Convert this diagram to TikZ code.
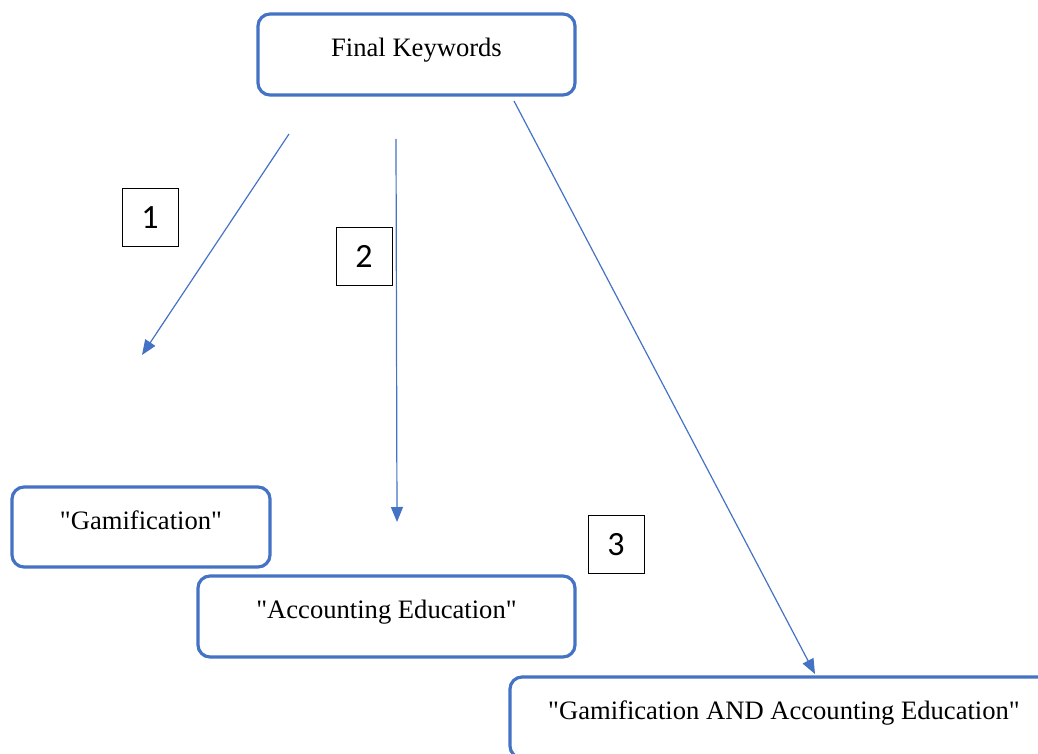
\documentclass[tikz,border=0pt]{standalone}
\usepackage{fontspec}
\setmainfont{Liberation Serif}[Ligatures=TeXOff]
\newfontfamily\numfont{Carlito}
\usetikzlibrary{arrows.meta}
\definecolor{wordblue}{HTML}{4472C4}
\begin{document}
\begin{tikzpicture}[x=1pt,y=-1pt,
  keybox/.style={draw=wordblue, line width=3.2pt, rounded corners=12pt, inner sep=0pt,
    font=\fontsize{26.6}{30}\selectfont, text height=19pt, text depth=15pt},
  numbox/.style={draw=black, line width=1pt, inner sep=0pt, minimum width=56pt,
    minimum height=58pt, font=\numfont\fontsize{34}{40}\selectfont},
  link/.style={draw=wordblue, line width=1.2pt, -{Triangle[length=15pt,width=12pt]}}]
\useasboundingbox (0,0) rectangle (1038,754);
\node[keybox, minimum width=317pt, minimum height=81pt] (final) at (416.5,54.5) {Final Keywords};
\node[keybox, minimum width=258pt, minimum height=80pt] (gam) at (141,527) {"Gamification"};
\node[keybox, minimum width=377pt, minimum height=81pt] (acc) at (386.5,616.5) {"Accounting Education"};
\node[keybox, minimum width=548pt, minimum height=81pt] (both) at (784,717.5) {"Gamification AND Accounting Education"};
\node[numbox] (n1) at (150,217.5) {1};
\node[numbox] (n2) at (364,256.5) {2};
\node[numbox] (n3) at (616,544.5) {3};
\coordinate (a1s) at (289,134);
\coordinate (a1e) at (142,355);
\coordinate (a2s) at (396,139);
\coordinate (a2e) at (397,522);
\coordinate (a3s) at (514,101);
\coordinate (a3e) at (815,674);
\draw[link] (a1s) -- (a1e);
\draw[link] (a2s) -- (a2e);
\draw[link] (a3s) -- (a3e);
\end{tikzpicture}
\end{document}
